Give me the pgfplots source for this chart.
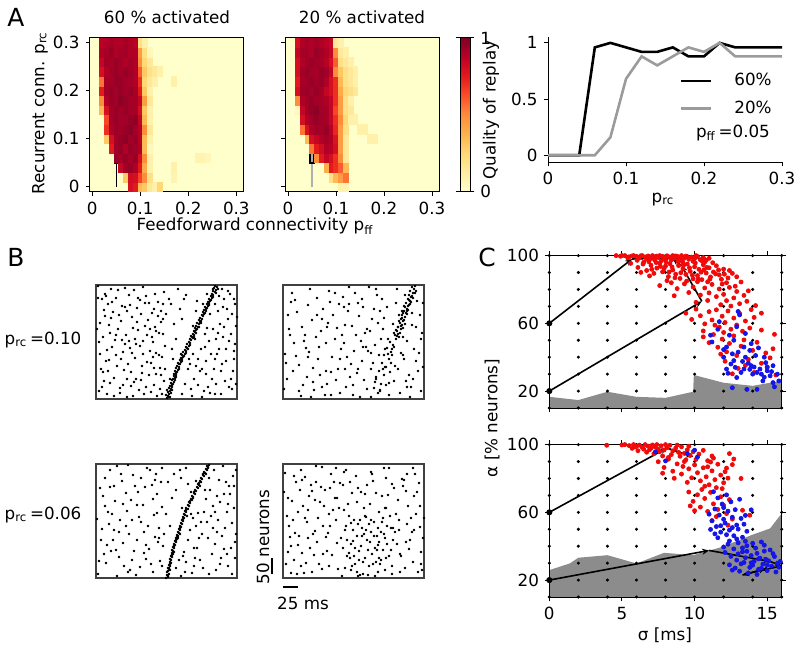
\documentclass[border=0pt]{standalone}
\usepackage{fontspec}
\setmainfont{DejaVu Sans}
\usepackage{pgfplots}
\pgfplotsset{compat=1.18}
\usetikzlibrary{arrows.meta}

\definecolor{trace20}{RGB}{155,155,155}
\definecolor{fillgray}{RGB}{140,140,140}
\definecolor{rdot}{RGB}{240,10,10}
\definecolor{bdot}{RGB}{20,20,235}
\definecolor{hmbase}{RGB}{255,255,204}

\pgfplotsset{
  every axis/.append style={scale only axis,
    axis line style={line width=0.5bp}, tick style={black, line width=0.5bp},
    major tick length=2.2bp, /pgf/number format/assume math mode=true},
  colormap={ylorrd}{rgb255=(255,255,204) rgb255=(255,237,160) rgb255=(254,217,118)
    rgb255=(254,178,76) rgb255=(253,141,60) rgb255=(252,78,42) rgb255=(227,26,28)
    rgb255=(189,0,38) rgb255=(128,0,38)},
  % heat maps in cell units: x = p_ff/0.01, y = p_rc/0.02
  hm/.style={anchor=south west, width=76.8bp, height=76.8bp,
    xmin=-0.5, xmax=31.5, ymin=-0.5, ymax=15.5,
    xtick={0,10,20,30}, xticklabels={0,0.1,0.2,0.3},
    ytick={0,5,10,15}, yticklabels={0,0.1,0.2,0.3},
    tick align=outside, tick pos=left, axis on top,
    axis background/.style={fill=hmbase},
    colormap name=ylorrd, point meta min=0, point meta max=1},
  hmc/.style={scatter, only marks, mark=square*, mark size=1.2bp, point meta=explicit,
    mark options={yscale=2, line width=0.3bp},
    scatter/use mapped color={draw=mapped color, fill=mapped color}},
  rast/.style={anchor=south west, width=70.5bp, height=57bp,
    xmin=0, xmax=141, ymin=0, ymax=114, ticks=none,
    axis line style={black!75, line width=0.6bp}},
  spk/.style={only marks, mark=*, mark size=0.4bp, black},
  cpan/.style={anchor=south west, width=116.2bp, height=76.2bp,
    xmin=0, xmax=16, ymin=10, ymax=100, xtick={0,5,10,15}, ytick={20,60,100},
    tick align=outside, tick pos=both, axis on top},
  grd/.style={only marks, mark=*, mark size=0.55bp, black},
  rd/.style={only marks, mark=*, mark size=1.0bp, rdot},
  bd/.style={only marks, mark=*, mark size=1.0bp, bdot},
  traj/.style={black, line width=0.8bp, -{Stealth[length=3.5bp,width=3bp]}},
}

\begin{document}
\fontsize{8.4}{10}\selectfont
\begin{tikzpicture}[x=0.5bp, y=-0.5bp]
\useasboundingbox (0,0) rectangle (800,650);

% ---------------- A: heat maps (only cells above the pale base colour are listed)
\begin{axis}[hm, at={(44.95bp,-95.75bp)}]
\addplot[hmc] coordinates {
(8,0)[0.8](9,0)[0.75](10,0)[0.35](11,0)[0.3](12,0)[0.15](13,0)[0.1](14,0)[0.25]
(7,1)[0.3](8,1)[0.82](9,1)[0.8](10,1)[0.65](11,1)[0.5](12,1)[0.2](17,1)[0.08]
(6,2)[0.85](7,2)[0.93](8,2)[0.95](9,2)[0.9](10,2)[0.75](11,2)[0.4](12,2)[0.1](17,2)[0.1]
(5,3)[0.95](6,3)[0.93](7,3)[0.95](8,3)[0.92](9,3)[0.95](10,3)[0.8](11,3)[0.5](12,3)[0.1](22,3)[0.08](23,3)[0.08](24,3)[0.06]
(4,4)[0.75](5,4)[0.93](6,4)[0.95](7,4)[0.9](8,4)[0.95](9,4)[0.93](10,4)[0.9](11,4)[0.35](12,4)[0.05]
(3,5)[0.3](4,5)[0.8](5,5)[0.93](6,5)[0.95](7,5)[0.97](8,5)[0.93](9,5)[0.95](10,5)[0.88](11,5)[0.35](12,5)[0.1]
(3,6)[0.7](4,6)[0.9](5,6)[0.95](6,6)[0.93](7,6)[0.95](8,6)[0.97](9,6)[0.93](10,6)[0.88](11,6)[0.5](12,6)[0.15]
(3,7)[0.65](4,7)[0.92](5,7)[0.95](6,7)[0.93](7,7)[0.93](8,7)[0.95](9,7)[0.97](10,7)[0.85](11,7)[0.35](12,7)[0.1]
(2,8)[0.35](3,8)[0.8](4,8)[0.93](5,8)[0.95](6,8)[0.93](7,8)[0.95](8,8)[0.93](9,8)[0.92](10,8)[0.8](11,8)[0.3](12,8)[0.1]
(2,9)[0.5](3,9)[0.9](4,9)[0.95](5,9)[0.93](6,9)[0.97](7,9)[0.95](8,9)[0.93](9,9)[0.92](10,9)[0.85](11,9)[0.45](12,9)[0.15]
(2,10)[0.75](3,10)[0.93](4,10)[0.95](5,10)[0.93](6,10)[0.95](7,10)[0.93](8,10)[0.95](9,10)[0.92](10,10)[0.75](11,10)[0.3](12,10)[0.1]
(2,11)[0.55](3,11)[0.92](4,11)[0.93](5,11)[0.95](6,11)[0.95](7,11)[0.93](8,11)[0.92](9,11)[0.9](10,11)[0.7](11,11)[0.25](12,11)[0.15](13,11)[0.1](17,11)[0.1]
(2,12)[0.8](3,12)[0.9](4,12)[0.93](5,12)[0.95](6,12)[0.93](7,12)[0.95](8,12)[0.93](9,12)[0.9](10,12)[0.6](11,12)[0.3](12,12)[0.2](13,12)[0.15](14,12)[0.1]
(2,13)[0.85](3,13)[0.93](4,13)[0.92](5,13)[0.95](6,13)[0.93](7,13)[0.9](8,13)[0.92](9,13)[0.9](10,13)[0.5](11,13)[0.25](12,13)[0.15]
(2,14)[0.9](3,14)[0.92](4,14)[0.95](5,14)[0.9](6,14)[0.92](7,14)[0.93](8,14)[0.9](9,14)[0.9](10,14)[0.45](11,14)[0.2](12,14)[0.05]
(2,15)[0.88](3,15)[0.9](4,15)[0.92](5,15)[0.9](6,15)[0.9](7,15)[0.92](8,15)[0.9](9,15)[0.88](10,15)[0.2](11,15)[0.1]};
\addplot[black, line width=0.6bp] coordinates {(5,0) (5,15)};
\addplot[draw=white, line width=0.6bp] coordinates {(4.55,4.58) (5.45,4.58) (5.45,5.42) (4.55,5.42)} -- cycle;
\addplot[draw=black, fill=black] coordinates {(4.5,2.45) (5.5,2.45) (5.5,3.55) (4.5,3.55)} -- cycle;
\end{axis}

\begin{axis}[hm, at={(142.8bp,-95.75bp)}, yticklabels={},
  colorbar, colorbar style={at={(parent axis.north east)}, anchor=north west,
    xshift=1.9bp, width=5bp, ytick={0,1}, tick align=outside,
    major tick length=2.2bp, yticklabel pos=right}]
\addplot[hmc] coordinates {
(11,0)[0.1](12,0)[0.08]
(9,1)[0.2](10,1)[0.35](11,1)[0.45](12,1)[0.55]
(8,2)[0.4](9,2)[0.75](10,2)[0.7](11,2)[0.6](12,2)[0.35]
(6,3)[0.5](7,3)[0.75](8,3)[0.85](9,3)[0.8](10,3)[0.7](11,3)[0.5](12,3)[0.15]
(5,4)[0.55](6,4)[0.75](7,4)[0.82](8,4)[0.9](9,4)[0.88](10,4)[0.8](11,4)[0.45](12,4)[0.15]
(4,5)[0.35](5,5)[0.8](6,5)[0.85](7,5)[0.9](8,5)[0.92](9,5)[0.9](10,5)[0.78](11,5)[0.45](12,5)[0.15](17,5)[0.1](18,5)[0.1]
(3,6)[0.55](4,6)[0.8](5,6)[0.9](6,6)[0.93](7,6)[0.92](8,6)[0.95](9,6)[0.88](10,6)[0.72](11,6)[0.45](12,6)[0.2](15,6)[0.1](16,6)[0.1]
(3,7)[0.8](4,7)[0.9](5,7)[0.93](6,7)[0.95](7,7)[0.93](8,7)[0.92](9,7)[0.85](10,7)[0.7](11,7)[0.5](12,7)[0.25](13,7)[0.1](14,7)[0.1]
(2,8)[0.05](3,8)[0.85](4,8)[0.93](5,8)[0.95](6,8)[0.97](7,8)[0.93](8,8)[0.92](9,8)[0.85](10,8)[0.65](11,8)[0.45](12,8)[0.2](13,8)[0.15]
(2,9)[0.5](3,9)[0.9](4,9)[0.93](5,9)[0.95](6,9)[0.93](7,9)[0.92](8,9)[0.9](9,9)[0.85](10,9)[0.7](11,9)[0.45](12,9)[0.2](13,9)[0.1]
(2,10)[0.8](3,10)[0.93](4,10)[0.95](5,10)[0.93](6,10)[0.95](7,10)[0.92](8,10)[0.85](9,10)[0.8](10,10)[0.7](11,10)[0.4](12,10)[0.25](13,10)[0.2](14,10)[0.15]
(2,11)[0.75](3,11)[0.92](4,11)[0.93](5,11)[0.95](6,11)[0.93](7,11)[0.95](8,11)[0.9](9,11)[0.8](10,11)[0.7](11,11)[0.35](12,11)[0.2](13,11)[0.15](14,11)[0.1]
(2,12)[0.8](3,12)[0.93](4,12)[0.95](5,12)[0.93](6,12)[0.92](7,12)[0.95](8,12)[0.93](9,12)[0.85](10,12)[0.5](11,12)[0.3](12,12)[0.2](13,12)[0.15](14,12)[0.1]
(2,13)[0.8](3,13)[0.9](4,13)[0.93](5,13)[0.95](6,13)[0.93](7,13)[0.92](8,13)[0.88](9,13)[0.8](10,13)[0.6](11,13)[0.2](12,13)[0.15](13,13)[0.1]
(2,14)[0.85](3,14)[0.92](4,14)[0.93](5,14)[0.9](6,14)[0.95](7,14)[0.93](8,14)[0.9](9,14)[0.85](10,14)[0.5](11,14)[0.15](12,14)[0.1]
(2,15)[0.8](3,15)[0.9](4,15)[0.92](5,15)[0.9](6,15)[0.92](7,15)[0.9](8,15)[0.88](9,15)[0.85](10,15)[0.15](11,15)[0.1]};
\addplot[trace20!80, line width=0.6bp] coordinates {(5,0) (5,15)};
\addplot[draw=white, line width=0.6bp] coordinates {(4.55,4.58) (5.45,4.58) (5.45,5.42) (4.55,5.42)} -- cycle;
\addplot[draw=black, line width=0.7bp] coordinates {(4.55,2.48) (5.45,2.48) (5.45,3.52) (4.55,3.52)} -- cycle;
\end{axis}

% ---------------- A: quality of replay vs p_rc
\begin{axis}[anchor=south west, at={(274bp,-81bp)}, width=117bp, height=62.65bp,
  xmin=0, xmax=0.3, ymin=-0.06, ymax=1.055,
  axis x line*=bottom, axis y line*=left,
  xtick={0,0.1,0.2,0.3}, ytick={0,0.5,1}, tick align=outside,
  legend cell align=left,
  legend style={draw=none, fill=none, at={(1,0.774)}, anchor=north east, row sep=2.5bp},
  legend image code/.code={\draw[#1] (0bp,0bp) -- (15bp,0bp); \path (24bp,0bp);}]
\addplot[black, line width=1.3bp] coordinates {(0,0) (0.02,0) (0.04,0) (0.06,0.96) (0.08,1) (0.1,0.96) (0.12,0.92) (0.14,0.92) (0.16,0.96) (0.18,0.88) (0.2,0.88) (0.22,1) (0.24,0.96) (0.26,0.96) (0.28,0.96) (0.3,0.96)};
\addlegendentry{60\%}
\addplot[trace20, line width=1.3bp] coordinates {(0,0) (0.02,0) (0.04,0) (0.06,0) (0.08,0.16) (0.1,0.68) (0.12,0.88) (0.14,0.8) (0.16,0.88) (0.18,0.96) (0.2,0.92) (0.22,1) (0.24,0.88) (0.26,0.88) (0.28,0.88) (0.3,0.88)};
\addlegendentry{20\%}
\end{axis}

% ---------------- B: spike rasters (x in 0.6 ms steps, y in neuron rows / 3)
\begin{axis}[rast, at={(48bp,-199.5bp)}]
\addplot[spk] coordinates {
(3,8)(12,95)(25,40)(7,62)(18,21)(33,104)(41,77)(29,55)(50,12)(58,90)(46,33)(63,66)(15,110)(37,3)(54,48)(9,83)(22,70)(44,99)(60,25)(68,107)
(5,30)(27,14)(39,60)(52,79)(66,42)(11,49)(31,88)(48,5)(57,57)(20,101)(35,27)(62,83)(8,18)(42,69)(26,93)(55,36)(13,74)(47,112)(64,10)(36,46)
(2,101)(19,59)(53,96)(40,20)(69,53)(24,6)(45,85)(10,38)(30,64)(59,105)(17,87)(34,51)(61,3)(4,45)(49,73)(28,29)(67,95)(14,16)(38,109)(56,62)
(6,100)(16,52)(23,84)(32,35)(43,9)(51,64)(58,14)(65,77)(1,70)(21,33)(34,94)(47,58)(60,46)(12,28)(29,111)(39,41)(53,24)(67,65)(8,89)(25,78)
(44,53)(62,97)(18,3)(37,71)(57,42)(3,57)(31,20)(50,103)(64,31)(14,66)(41,91)(55,7)(27,47)(68,18)(9,105)(46,26)(20,44)(36,82)(59,72)(6,12)
(7,27)(15,81)(24,11)(33,58)(42,101)(51,37)(60,68)(2,113)(11,5)(20,64)(29,92)(38,17)(47,45)(56,86)(65,24)(4,76)(13,39)(22,109)(31,2)(40,55)
(49,96)(58,31)(67,80)(16,97)(35,13)(54,70)(63,44)(26,59)(45,19)(10,103)
(95,10)(110,25)(125,5)(138,40)(120,60)(132,80)(100,33)(115,45)(128,100)(140,15)(105,50)(118,30)(135,65)(98,20)(122,88)(130,50)(112,12)(139,95)
(126,35)(108,8)(117,70)(134,105)(102,40)(124,75)(137,28)(113,58)(129,18)(121,45)(106,2)(140,73)(96,3)(132,108)(110,38)(127,62)(119,95)(133,12)
(99,60)(107,95)(116,20)(123,50)(131,90)(139,55)(103,72)(111,105)(120,15)(136,85)(97,45)(109,65)(126,110)(114,85)(104,28)(138,48)(101,98)(128,72)(119,5)(92,30)
(94,35)(102,14)(111,71)(119,40)(127,92)(135,20)(100,88)(109,52)(117,110)(125,28)(133,58)(141,82)(106,30)(114,6)(122,66)(130,38)(138,100)(97,73)(123,103)(136,10)
(75,95)(82,110)(88,100)(70,85)(90,104)(78,75)(84,90)(65,88)(73,100)(86,80)(80,60)(76,50)(69,30)(74,20)(66,5)(85,45)(77,40)(89,15)(86,5)(93,40)
(71,1)(74,2)(72,3)(73,5)(75,6)(72,7)(74,8)(75,10)(73,11)(76,12)(74,13)(77,15)(75,16)(78,17)(76,19)(77,20)(79,21)(78,23)(80,24)(78,25)
(81,27)(79,28)(82,29)(80,31)(83,32)(81,33)(84,35)(82,36)(85,37)(84,39)(86,40)(85,41)(88,43)(86,44)(89,45)(87,47)(90,48)(89,49)(91,51)(90,52)
(93,53)(91,55)(94,56)(93,57)(95,59)(94,60)(97,61)(95,63)(98,64)(97,65)(99,67)(98,68)(100,69)(99,71)(102,72)(100,73)(103,75)(101,76)(104,77)(103,79)
(106,80)(104,81)(107,83)(106,84)(108,85)(107,87)(110,88)(108,89)(111,91)(109,92)(112,93)(111,95)(113,96)(112,97)(115,99)(113,100)(116,101)(115,103)(117,104)(116,105)
(119,107)(117,108)(120,109)(118,111)(121,112)(119,113)(70,4)(76,9)(80,26)(87,42)(96,62)(105,78)(114,98)(122,110)
(73,2)(76,14)(80,22)(83,30)(86,38)(90,46)(94,54)(98,62)(101,70)(105,76)(109,86)(113,94)(117,102)(120,106)(71,9)(79,19)(83,35)(92,50)(100,66)(110,90)};
\end{axis}

\begin{axis}[rast, at={(141.5bp,-199.5bp)}]
\addplot[spk] coordinates {
(4,20)(14,87)(23,51)(9,106)(31,9)(38,68)(47,97)(55,30)(62,74)(70,4)(78,58)(86,112)(93,22)(101,81)(109,44)(117,6)(125,93)(133,38)(139,66)(2,45)
(18,3)(27,110)(35,40)(44,15)(52,60)(60,102)(68,35)(76,83)(84,10)(92,54)(99,100)(107,27)(115,72)(123,18)(131,50)(137,84)(6,70)(16,34)(25,94)(33,62)
(42,4)(50,84)(58,50)(66,112)(74,26)(82,66)(90,36)(97,8)(105,60)(113,96)(121,40)(129,74)(11,56)(20,14)(29,79)(37,24)(46,108)(54,71)(63,12)(71,48)
(80,92)(88,30)(95,76)(103,14)(111,52)(119,88)(127,2)(135,28)(8,97)(22,64)(30,31)(40,90)(49,42)(57,6)(65,88)(73,64)(81,19)(89,80)(96,44)(104,92)
(112,33)(120,62)(128,12)(136,46)(1,10)(13,43)(24,22)(34,101)(43,56)(53,19)(61,92)(69,73)(77,2)(85,48)(94,104)(102,32)(110,75)(118,46)(126,24)(134,98)
(5,84)(19,72)(28,2)(36,52)(45,76)(56,95)(64,42)(72,106)(79,38)(87,68)(98,60)(106,16)(114,110)(124,58)(140,32)(10,28)(26,47)(39,12)(48,27)(59,64)
(67,22)(75,96)(83,52)(91,90)(100,70)(108,36)(116,84)(122,104)(130,20)(138,8)
(3,36)(12,99)(21,58)(30,17)(39,80)(48,4)(57,40)(66,95)(75,30)(84,70)(93,110)(102,50)(111,18)(120,44)(129,86)(138,60)(7,64)(16,8)(25,42)(34,84)
(43,28)(52,106)(61,56)(70,14)(79,100)(88,46)(97,88)(106,4)(115,30)(124,12)(133,72)(140,96)(44,72)(62,30)(80,52)
(113,60)(116,62)(112,64)(117,66)(114,68)(118,70)(115,72)(119,74)(117,76)(120,78)(118,80)(122,82)(119,84)(123,86)(121,88)(124,90)(122,92)(126,94)(123,96)(127,98)
(125,100)(128,102)(126,104)(130,106)(127,108)(131,110)(129,112)(132,113)(120,71)(124,85)(128,97)(111,66)(121,93)(130,101)(116,78)(125,89)(133,108)(119,81)(122,75)(114,63)
(115,65)(118,73)(121,79)(124,88)(127,95)(129,103)(132,106)(113,69)(120,86)(126,99)
(88,2)(95,6)(91,11)(98,15)(93,20)(101,24)(96,28)(103,32)(99,36)(106,40)(101,44)(108,47)(104,51)(110,54)(107,57)(97,9)(100,30)(105,45)(92,17)(109,50)};
\end{axis}

\begin{axis}[rast, at={(48bp,-289bp)}]
\addplot[spk] coordinates {
(2,4)(11,33)(19,77)(28,12)(36,58)(45,100)(53,29)(61,84)(6,49)(14,108)(23,21)(31,67)(40,3)(48,46)(56,93)(64,17)(9,72)(17,38)(26,97)(34,8)
(43,61)(51,110)(59,41)(66,71)(4,90)(13,54)(21,2)(30,85)(38,27)(47,73)(55,14)(63,50)(8,24)(16,64)(25,104)(33,44)(42,86)(50,19)(58,63)(65,96)
(1,59)(10,15)(18,92)(27,35)(35,78)(44,11)(52,52)(60,104)(7,82)(15,27)(24,58)(32,113)(41,38)(49,91)(57,6)(67,32)
(5,38)(14,91)(23,46)(32,6)(41,73)(50,33)(59,98)(3,17)(12,66)(21,112)(30,52)(39,92)(48,25)(57,79)(66,12)(9,100)(18,48)(27,74)(36,18)(45,56)
(54,108)(63,40)(20,28)(37,103)(61,65)
(80,10)(88,26)(96,5)(104,18)(112,40)(120,8)(128,29)(136,55)(92,38)(100,52)(108,66)(116,24)(124,76)(132,12)(140,44)(85,2)(98,30)(106,44)(114,88)(122,58)
(130,96)(138,70)(90,16)(102,65)(110,79)(118,108)(126,42)(134,84)(139,20)(94,48)(107,10)(115,62)(123,98)(131,66)(137,102)(83,18)(97,60)(119,34)(127,112)(135,30)
(111,56)(103,40)(129,50)(121,82)(133,92)(117,72)(125,20)(140,108)(99,20)(113,4)
(82,40)(89,6)(95,64)(101,30)(109,88)(117,50)(124,14)(132,74)(139,36)(87,22)(105,56)(113,100)(121,46)(128,84)(136,4)(92,94)(119,66)(131,24)(98,12)(138,92)
(72,96)(78,104)(66,110)(84,108)(80,88)(76,80)(70,64)(74,52)(68,44)(62,36)(85,100)(90,110)
(70,0)(72,1)(71,3)(73,4)(71,6)(72,7)(73,9)(72,10)(74,12)(73,13)(75,15)(74,16)(75,18)(74,19)(76,21)(75,22)(77,24)(76,25)(77,27)(76,28)
(78,30)(77,31)(79,33)(78,34)(80,36)(79,37)(81,39)(80,40)(82,42)(81,43)(83,45)(82,46)(84,48)(83,49)(85,51)(84,52)(86,54)(85,55)(87,57)(86,58)
(88,60)(87,61)(89,63)(88,64)(90,66)(89,67)(92,69)(90,70)(93,72)(92,73)(94,75)(93,76)(96,78)(95,79)(97,81)(96,82)(99,84)(98,85)(100,87)(99,88)
(102,90)(101,91)(103,93)(102,94)(105,96)(104,97)(106,99)(105,100)(108,102)(107,103)(109,105)(108,106)(111,108)(110,109)(112,111)(111,112)(113,113)
(74,8)(78,26)(84,44)(91,62)(97,80)(104,92)(110,104)(95,86)(100,97)(86,70)
(72,2)(74,14)(76,23)(78,32)(81,41)(84,50)(87,59)(90,68)(94,77)(98,86)(103,95)(107,104)(112,110)(73,10)(80,38)};
\end{axis}

\begin{axis}[rast, at={(141.5bp,-289bp)}, clip=false]
\addplot[spk] coordinates {
(3,14)(9,77)(16,42)(22,101)(29,6)(35,60)(42,88)(49,23)(56,70)(63,108)(70,37)(77,3)(84,93)(91,56)(98,18)(105,83)(112,46)(119,99)(126,29)(133,64)(139,8)
(6,52)(13,96)(19,25)(26,82)(32,47)(39,111)(46,12)(53,58)(60,93)(67,20)(74,76)(81,44)(88,106)(95,33)(102,70)(109,4)(116,58)(123,87)(130,16)(137,51)
(1,86)(8,32)(15,66)(21,5)(28,93)(34,36)(41,72)(48,104)(55,9)(62,48)(69,85)(76,27)(83,61)(90,97)(97,14)(104,52)(111,90)(118,22)(125,72)(132,104)(140,40)
(4,62)(11,18)(18,108)(24,56)(31,23)(38,91)(45,45)(52,80)(59,2)(66,62)(73,102)(80,16)(87,74)(94,42)(101,110)(108,28)(115,78)(122,10)(129,46)(136,95)
(7,41)(14,4)(20,72)(27,30)(33,112)(40,52)(47,90)(54,35)(61,68)(68,8)(75,54)(82,84)(89,24)(96,66)(103,100)(110,38)(117,6)(124,54)(131,82)(138,26)
(2,105)(10,58)(17,88)(23,15)(30,44)(37,76)(44,27)(51,96)(58,40)(65,74)(72,14)(79,50)(86,12)(93,85)(100,28)(107,62)(114,34)(121,98)(128,60)(135,6)
(5,26)(12,45)(19,98)(25,68)(32,78)(39,9)(46,64)(53,110)(60,30)(67,96)(74,42)(81,70)(88,46)(95,6)(102,40)(109,94)(116,48)(123,36)(130,110)(137,72)
(8,5)(15,33)(22,60)(29,87)(36,14)(43,41)(50,68)(57,95)(64,22)(71,58)(78,86)(85,3)(92,30)(99,82)(106,110)(113,64)(120,92)(127,38)(134,86)(141,60)
(11,102)(18,12)(25,40)(33,96)(40,24)(47,52)(54,80)(61,106)(68,34)(75,90)(82,62)(89,104)(96,20)(103,70)(110,50)(117,24)(124,104)(131,48)(138,14)(5,80)
(62,10)(66,25)(70,48)(74,6)(78,32)(82,20)(86,54)(90,14)(94,28)(98,46)(102,8)(106,22)(64,38)(68,55)(72,30)(76,18)(80,4)(84,38)(88,58)(92,2)
(96,36)(100,60)(104,34)(108,50)(63,52)(71,22)(79,42)(87,36)(95,50)(103,20)(69,12)(77,58)(85,28)(93,16)(101,44)(109,12)(99,56)(91,42)(83,48)(75,2)};
% scale bars: 50 neurons, 25 ms
\addplot[black, line width=1.3bp] coordinates {(-11,4) (-11,20)};
\addplot[black, line width=1.3bp] coordinates {(0,-9) (15,-9)};
\end{axis}

% ---------------- C: alpha vs sigma
\begin{axis}[cpan, at={(274.65bp,-204bp)}, xticklabels={}]
\addplot[fill=fillgray, draw=none] coordinates {(0,16.6) (2,14.7) (4,19.6) (6,16.6) (8,16) (9.9,19.6) (9.95,29.5) (12,24.9) (14,23.1) (16,26.1)} \closedcycle;
\addplot[grd] coordinates {
(0,10)(0,20)(0,30)(0,40)(0,50)(0,60)(0,70)(0,80)(0,90)(0,100)(2,10)(2,20)(2,30)(2,40)(2,50)(2,60)(2,70)(2,80)(2,90)(2,100)
(4,10)(4,20)(4,30)(4,40)(4,50)(4,60)(4,70)(4,80)(4,90)(4,100)(6,10)(6,20)(6,30)(6,40)(6,50)(6,60)(6,70)(6,80)(6,90)(6,100)
(8,10)(8,20)(8,30)(8,40)(8,50)(8,60)(8,70)(8,80)(8,90)(8,100)(10,10)(10,20)(10,30)(10,40)(10,50)(10,60)(10,70)(10,80)(10,90)(10,100)
(12,10)(12,20)(12,30)(12,40)(12,50)(12,60)(12,70)(12,80)(12,90)(12,100)(14,10)(14,20)(14,30)(14,40)(14,50)(14,60)(14,70)(14,80)(14,90)(14,100)
(16,10)(16,20)(16,30)(16,40)(16,50)(16,60)(16,70)(16,80)(16,90)(16,100)};
\addplot[rd] coordinates {
(4.6,100)(4.9,99.6)(5.2,100)(5.5,99.3)(5.8,100)(6.0,99.5)(6.2,98.8)(6.4,100)(6.6,99.2)(6.8,99.8)(7.0,98.6)(7.1,100)(7.3,99.4)(7.5,98.9)(7.6,100)(7.8,99.5)
(8.0,98.7)(8.1,99.9)(8.3,99.2)(8.5,100)(8.6,98.5)(8.8,99.6)(9.0,99.0)(9.1,100)(9.3,98.4)(9.5,99.4)(9.6,97.8)(9.8,99.1)(10.0,98.2)(10.2,99.5)(10.4,97.5)(10.6,98.8)
(10.8,97.2)(11.0,98.4)(5.4,98.6)(6.9,97.6)(8.4,97.3)(9.9,96.6)(7.7,96.9)(5.0,100)(5.7,99.8)(6.3,99.9)(7.4,99.7)(8.7,99.8)(9.4,99.7)(10.1,100)
(5.6,95.4)(6.1,93.0)(6.5,96.1)(6.7,91.2)(7.0,94.3)(7.2,89.5)(7.4,92.6)(7.6,95.5)(7.8,90.4)(8.0,93.8)(8.2,87.6)(8.3,95.2)(8.5,91.5)(8.7,89.0)(8.9,94.1)(9.0,86.5)
(9.2,92.2)(9.4,88.9)(9.5,95.0)(9.7,90.7)(9.9,86.3)(10.0,93.4)(10.2,88.2)(10.3,91.9)(10.5,85.8)(10.6,94.6)(10.8,89.7)(11.0,92.8)(11.1,87.4)(11.3,90.3)(11.5,94.0)(11.7,88.6)
(12.0,92.0)(12.3,86.8)(6.3,90.1)(6.9,88.0)(8.1,85.2)(10.9,84.5)(11.9,83.2)(12.6,89.5)(12.2,84.0)(7.9,97.8)(9.1,97.0)(10.7,96.2)
(6.05,97.2)(6.45,95.0)(6.85,96.4)(7.25,97.4)(7.65,93.6)(8.05,96.1)(8.45,93.3)(8.85,96.7)(9.25,94.4)(9.65,92.8)(10.05,95.6)(10.45,90.2)(10.85,93.0)(11.25,95.8)(11.65,91.5)(12.05,89.0)
(8.25,90.3)(8.65,86.9)(9.05,89.9)(9.45,84.9)(9.85,88.4)(10.25,86.2)(10.65,91.6)(11.05,86.1)(11.45,89.2)(11.85,86.0)(7.35,95.9)(7.05,91.9)(6.7,98.1)(7.9,92.2)(9.2,95.9)(10.5,97.0)
(12.4,91.2)(12.9,87.5)(13.2,84.4)(12.8,81.9)(13.7,79.2)(14.2,70.5)(13.9,68.1)(14.6,66.0)
(7.6,82.3)(8.4,84.0)(8.8,80.5)(9.3,83.3)(9.6,78.2)(9.9,81.5)(10.2,84.6)(10.4,76.7)(10.7,80.9)(11.0,78.0)(11.2,83.0)(11.5,75.8)(11.7,80.3)(12.0,77.1)(12.2,73.4)(12.4,81.2)
(12.7,75.0)(12.9,78.8)(13.1,71.6)(13.4,76.5)(11.8,71.0)(10.9,73.5)(12.5,70.2)(13.6,73.0)(10.1,72.4)(8.6,76.3)
(9.4,66.0)(9.8,62.3)(10.1,68.4)(10.4,64.5)(10.7,59.7)(11.0,66.9)(11.2,62.0)(11.5,68.0)(11.7,57.8)(11.9,64.2)(12.1,60.5)(12.3,67.3)(12.5,56.5)(12.7,63.1)(12.9,59.0)(13.1,65.8)
(13.3,55.3)(13.5,61.4)(13.8,57.2)(14.1,63.5)(12.0,54.6)(11.4,58.9)(10.6,55.5)(14.6,56.0)(15.5,53.5)
(10.6,52.0)(11.0,48.6)(11.3,53.4)(11.6,45.9)(11.9,50.7)(12.2,43.2)(12.4,48.1)(12.7,52.6)(12.9,41.0)(13.2,46.5)(13.4,50.2)(13.7,38.7)(14.0,44.0)(14.3,48.8)(14.6,36.4)(14.9,42.5)
(15.2,39.6)(12.1,37.6)(13.5,35.2)(15.4,45.0)(11.8,41.8)(13.0,33.4)(14.1,31.0)(15.0,34.3)(12.6,30.2)(15.6,29.5)};
\addplot[bd] coordinates {
(13.0,67.0)(13.1,65.0)(11.7,61.0)(11.1,53.0)(11.2,49.0)(12.4,53.0)(13.5,54.0)(12.7,50.0)(12.2,46.0)(13.0,43.0)(13.8,44.0)(12.0,40.0)(12.7,38.0)(13.5,40.0)(14.2,41.0)(14.8,40.0)
(12.2,33.0)(12.8,34.0)(13.4,33.0)(13.9,35.0)(14.5,33.0)(15.0,34.0)(15.4,35.0)(15.7,30.0)(14.7,26.0)(15.4,25.0)(15.8,26.0)(13.6,21.0)(14.3,21.0)(12.6,22.0)(12.9,28.0)(13.2,31.0)
(14.0,30.0)(14.3,31.0)(14.6,30.0)(15.0,32.0)(15.2,29.0)(13.7,36.5)(14.1,34.2)(12.5,36.0)(13.3,37.5)(14.9,36.8)(15.3,31.5)(12.0,44.5)(12.6,42.0)(14.4,45.5)(13.9,48.0)(11.6,56.5)
(12.9,58.0)(13.4,46.0)(12.3,30.5)(14.8,28.2)(15.5,22.5)(13.8,32.8)};
\addplot[traj] coordinates {(0,60) (5.7,98)};
\addplot[traj] coordinates {(5.7,98) (8.4,98.6)};
\addplot[traj] coordinates {(8.4,98.6) (10.9,98.3)};
\addplot[traj] coordinates {(0,20) (10.5,73)};
\addplot[traj] coordinates {(10.5,73) (9.1,94)};
\addplot[traj] coordinates {(9.1,94) (8.5,98.2)};
\addplot[only marks, mark=*, mark size=1.3bp, black] coordinates {(0,60) (0,20)};
\end{axis}

\begin{axis}[cpan, at={(274.65bp,-298.5bp)}]
\addplot[fill=fillgray, draw=none] coordinates {(0,25.9) (1.4,29.8) (2,33.2) (4,34.7) (6,29.8) (7.9,36.1) (9.9,34.7) (11.9,39.6) (13.9,46.5) (15.2,50.5) (16,59.4)} \closedcycle;
\addplot[grd] coordinates {
(0,10)(0,20)(0,30)(0,40)(0,50)(0,60)(0,70)(0,80)(0,90)(0,100)(2,10)(2,20)(2,30)(2,40)(2,50)(2,60)(2,70)(2,80)(2,90)(2,100)
(4,10)(4,20)(4,30)(4,40)(4,50)(4,60)(4,70)(4,80)(4,90)(4,100)(6,10)(6,20)(6,30)(6,40)(6,50)(6,60)(6,70)(6,80)(6,90)(6,100)
(8,10)(8,20)(8,30)(8,40)(8,50)(8,60)(8,70)(8,80)(8,90)(8,100)(10,10)(10,20)(10,30)(10,40)(10,50)(10,60)(10,70)(10,80)(10,90)(10,100)
(12,10)(12,20)(12,30)(12,40)(12,50)(12,60)(12,70)(12,80)(12,90)(12,100)(14,10)(14,20)(14,30)(14,40)(14,50)(14,60)(14,70)(14,80)(14,90)(14,100)
(16,10)(16,20)(16,30)(16,40)(16,50)(16,60)(16,70)(16,80)(16,90)(16,100)};
\addplot[rd] coordinates {
(3.95,99.6)(5.2,100)(5.5,99.4)(5.8,100)(6.0,98.9)(6.2,99.7)(6.4,98.3)(6.6,100)(6.8,99.1)(7.0,97.9)(7.1,99.8)(7.3,98.5)(7.5,97.2)(7.7,99.3)(7.9,96.8)(8.1,98.2)
(8.3,99.6)(8.5,96.3)(8.7,97.9)(8.9,95.4)(9.1,98.7)(9.3,94.8)(9.5,96.9)(9.7,93.6)(9.9,95.8)(6.1,96.4)(6.7,95.5)(7.2,94.6)(7.8,93.3)(8.4,94.1)(5.7,97.8)(6.9,97.0)
(8.0,100)(8.8,99.7)(9.6,99.0)(7.4,100)(5.0,99.8)(5.9,98.6)(6.5,97.3)(7.6,95.9)(8.2,92.4)(9.0,93.1)(9.4,91.0)(10.3,94.4)(10.6,96.6)(12.4,94.7)(11.2,93.3)(10.9,90.5)
(7.5,89.9)(7.9,86.5)(8.2,91.4)(8.5,84.3)(8.8,88.6)(9.1,82.6)(9.3,90.0)(9.6,85.7)(9.8,80.4)(10.0,88.0)(10.2,83.4)(10.4,78.6)(10.6,86.3)(10.8,81.0)(11.0,76.3)(11.2,84.5)
(11.4,79.3)(11.6,88.4)(11.8,82.0)(12.0,77.5)(12.2,86.1)(12.3,80.2)(9.2,87.1)(10.1,91.3)(11.1,89.7)(10.7,75.4)(11.5,74.6)(12.1,84.0)(8.6,80.1)(9.5,77.7)(13.2,80.0)(12.6,88.2)
(7.8,83.1)(10.9,86.9)(11.3,92.0)(12.7,91.5)
(9.6,72.0)(9.9,66.5)(10.2,70.4)(10.4,63.1)(10.7,68.2)(10.9,60.5)(11.1,71.8)(11.3,65.0)(11.6,61.7)(11.8,69.2)(12.0,64.1)(12.2,59.3)(12.4,67.5)(10.0,61.0)(11.5,57.5)(12.6,56.0)
(13.3,61.2)(10.5,73.5)(11.9,74.0)(9.7,63.8)(13.8,58.3)(12.3,52.4)(11.2,55.1)};
\addplot[bd] coordinates {
(7.3,95.7)(8.0,90.4)(9.5,94.7)(10.0,96.7)(10.2,92.7)
(11.3,72.2)(11.6,68.5)(11.9,64.9)(12.2,70.3)(12.5,66.2)(12.8,61.6)(13.1,67.7)(11.4,62.0)(11.7,58.4)(12.0,55.9)(12.3,60.7)(12.6,57.1)(12.9,52.5)(13.2,56.4)(11.2,55.0)(11.5,51.6)
(11.8,48.3)(12.1,53.7)(12.4,49.5)(12.7,46.2)(13.0,50.1)(13.3,45.3)(11.6,45.0)(12.2,46.8)(12.9,44.3)(13.6,48.8)(11.1,49.9)(13.9,61.5)(13.5,58.2)(12.0,62.8)(11.8,52.1)(12.6,51.0)
(13.4,53.0)(11.0,58.9)(12.4,43.1)(11.4,47.3)
(12.3,41.2)(12.7,38.4)(13.0,42.0)(13.3,36.7)(13.6,40.3)(13.9,34.5)(14.2,38.9)(14.5,33.0)(14.8,37.1)(15.1,31.4)(15.4,35.6)(15.7,29.9)(12.5,34.0)(12.9,31.8)(13.2,29.6)(13.5,33.2)
(13.8,27.5)(14.1,31.1)(14.4,26.3)(14.7,29.4)(15.0,25.6)(15.3,28.2)(15.6,24.8)(12.8,27.1)(13.1,25.2)(13.4,30.4)(13.7,24.1)(14.0,28.8)(14.3,23.3)(14.6,27.0)(14.9,32.3)(15.2,37.8)
(15.5,33.9)(12.1,36.3)(12.4,29.0)(13.0,35.5)(13.6,37.0)(14.3,35.8)(14.0,41.7)(14.6,42.5)(13.3,39.0)(15.8,27.6)(13.9,30.2)(14.4,32.5)(12.6,25.9)(13.5,42.9)(12.0,39.5)(14.8,40.6)
(15.9,31.0)(15.0,28.9)};
\addplot[traj] coordinates {(0,60) (8.1,98)};
\addplot[traj] coordinates {(8.1,98) (9.9,92.8)};
\addplot[traj] coordinates {(0,20) (11,37.5)};
\addplot[traj] coordinates {(11,37.5) (15.2,31)};
\addplot[traj] coordinates {(15.2,31) (16,28.3)};
\addplot[traj] coordinates {(16,28.3) (14.6,25.8)};
\addplot[traj] coordinates {(14.6,25.8) (13.3,23)};
\addplot[traj] coordinates {(13.3,23) (14.9,26.8)};
\addplot[only marks, mark=*, mark size=1.3bp, black] coordinates {(0,60) (0,20)};
\end{axis}

% ---------------- text
\node[font=\fontsize{12.5}{14}\selectfont] at (16,17) {A};
\node at (167,17) {60 \% activated};
\node at (362,17) {20 \% activated};
\node[rotate=90] at (40,113) {Recurrent conn. p\textsubscript{rc}};
\node at (255,226) {Feedforward connectivity p\textsubscript{ff}};
\node[rotate=90] at (491,110) {Quality of replay};
\node at (663,200) {p\textsubscript{rc}};
\node at (733,133) {p\textsubscript{ff}\,=0.05};
\node[font=\fontsize{12.5}{14}\selectfont] at (16,257) {B};
\node at (43,340) {p\textsubscript{rc}\,=0.10};
\node at (43,515) {p\textsubscript{rc}\,=0.06};
\node[rotate=90] at (263,537) {50 neurons};
\node at (303,603) {25 ms};
\node[font=\fontsize{12.5}{14}\selectfont] at (487,257) {C};
\node[rotate=90] at (492,418) {α [\% neurons]};
\node at (665,635) {σ [ms]};
\end{tikzpicture}
\end{document}
